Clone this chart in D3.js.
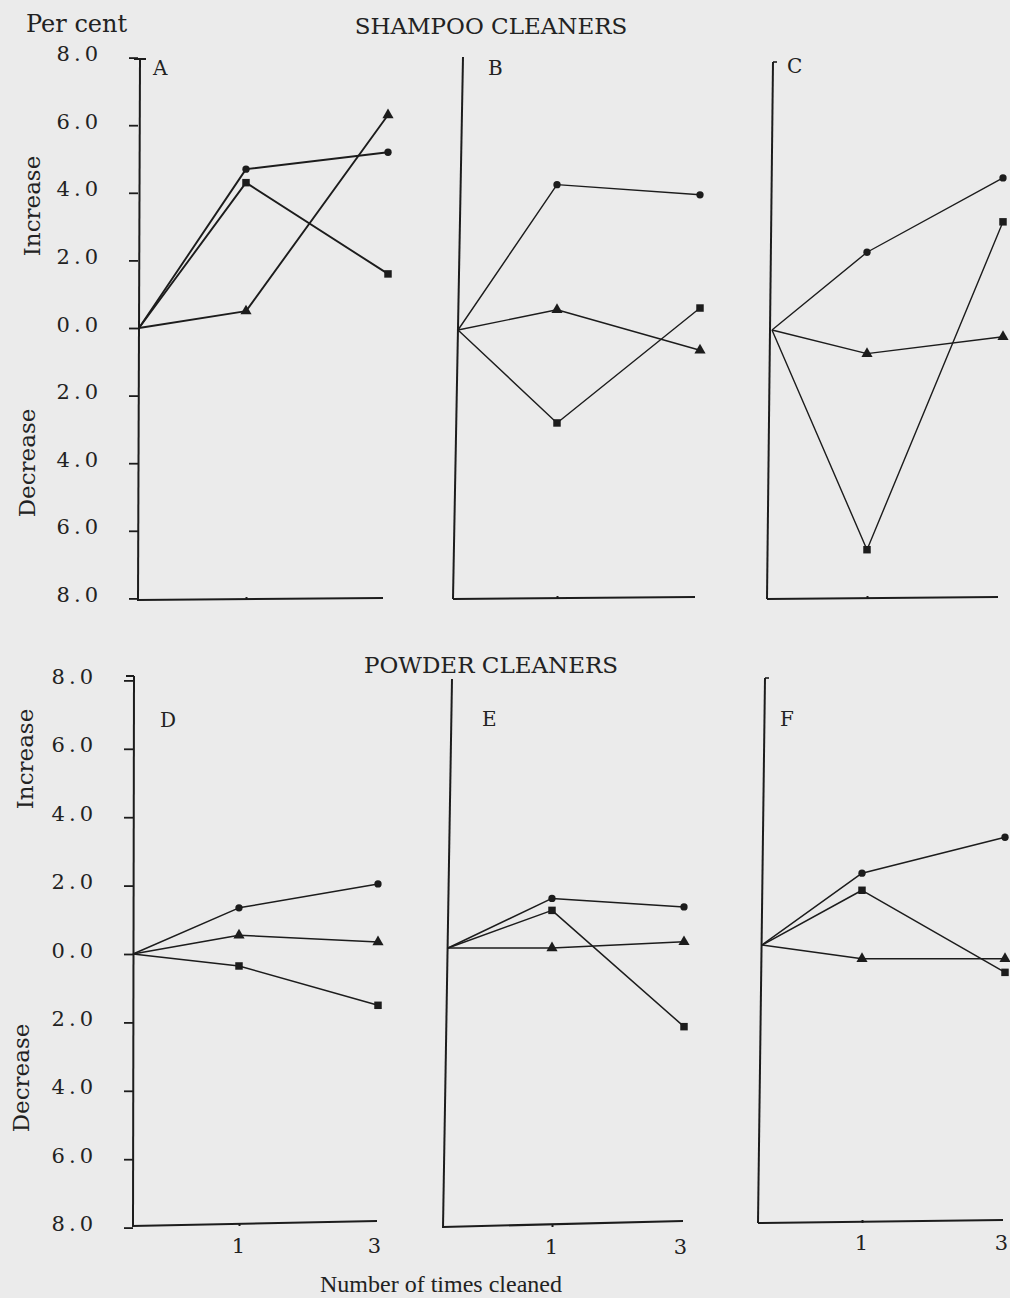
<!DOCTYPE html>
<html><head><meta charset="utf-8">
<script src="https://cdn.jsdelivr.net/npm/d3@7"></script>
<style>html,body{margin:0;padding:0;background:#ebebeb;} svg{display:block}</style>
</head><body>
<svg id="chart" width="1010" height="1298"></svg>
<script>
// ---------- DATA ----------
const timesCleaned = [0, 1, 3];
const xTickLabels = ["1", "3"];
const yTickValues = [8, 6, 4, 2, 0, -2, -4, -6, -8];
const yTickLabels = ["8.0", "6.0", "4.0", "2.0", "0.0", "2.0", "4.0", "6.0", "8.0"];
const panelNames = ["A", "B", "C", "D", "E", "F"];
const groupTitles = ["SHAMPOO CLEANERS", "POWDER CLEANERS"];

// per cent change (increase positive, decrease negative)
const A_circle   = [0, 4.7, 5.2];
const A_square   = [0, 4.3, 1.6];
const A_triangle = [0, 0.5, 6.3];
const B_circle   = [0, 4.3, 4.0];
const B_square   = [0, -2.75, 0.65];
const B_triangle = [0, 0.6, -0.6];
const C_circle   = [0, 2.3, 4.5];
const C_square   = [0, -6.5, 3.2];
const C_triangle = [0, -0.7, -0.2];
const D_circle   = [0, 1.35, 2.05];
const D_square   = [0, -0.35, -1.5];
const D_triangle = [0, 0.55, 0.35];
const E_circle   = [0, 1.45, 1.2];
const E_square   = [0, 1.1, -2.3];
const E_triangle = [0, 0.0, 0.18];
const F_circle   = [0, 2.1, 3.15];
const F_square   = [0, 1.6, -0.8];
const F_triangle = [0, -0.4, -0.4];

const seriesByPanel = {
  A: {circle: A_circle, square: A_square, triangle: A_triangle},
  B: {circle: B_circle, square: B_square, triangle: B_triangle},
  C: {circle: C_circle, square: C_square, triangle: C_triangle},
  D: {circle: D_circle, square: D_square, triangle: D_triangle},
  E: {circle: E_circle, square: E_square, triangle: E_triangle},
  F: {circle: F_circle, square: F_square, triangle: F_triangle}
};

// ---------- LAYOUT (styling only) ----------
const layout = {
  A: {x: [139, 246, 388], zero: 328, k: 33.8, ax: [140, 59, 138, 600], xa: [137, 600, 383, 598], ticks: true, xlabels: false, lw: 1.9, lx: 153, ly: 75, topTick: "T"},
  B: {x: [458, 557, 700], zero: 330, k: 33.8, ax: [463, 57, 453, 599], xa: [453, 599, 695, 597], ticks: false, xlabels: false, lw: 1.4, lx: 488, ly: 75},
  C: {x: [772, 867, 1003], zero: 330, k: 33.8, ax: [773, 62, 767, 599], xa: [767, 599, 998, 597], ticks: false, xlabels: false, lw: 1.4, lx: 787, ly: 73, topTick: "R"},
  D: {x: [133, 239, 378], zero: 954, k: 34.2, ax: [134, 676, 133, 1226], xa: [132, 1226, 377, 1221], ticks: true, xlabels: true, lw: 1.5, lx: 160, ly: 727, topTick: "L"},
  E: {x: [448, 552, 684], zero: 948, k: 34.2, ax: [452, 679, 443, 1228], xa: [443, 1227, 683, 1221], ticks: false, xlabels: true, lw: 1.5, lx: 482, ly: 726},
  F: {x: [762, 862, 1005], zero: 945, k: 34.2, ax: [765, 678, 758, 1223], xa: [758, 1223, 1003, 1220], ticks: false, xlabels: true, lw: 1.5, lx: 780, ly: 726, topTick: "R"}
};

const ink = "#1c1c1c";
const serif = "'DejaVu Serif', 'Liberation Serif', serif";
const svg = d3.select("#chart");
svg.append("rect").attr("width", 1010).attr("height", 1298).attr("fill", "#ebebeb");

const symbolType = {circle: d3.symbolCircle, square: d3.symbolSquare, triangle: d3.symbolTriangle};
const symbolSize = {circle: 42, square: 56, triangle: 54};

panelNames.forEach(name => {
  const L = layout[name];
  const g = svg.append("g");
  const x = d3.scaleLinear().domain(timesCleaned).range(L.x);
  const y = d3.scaleLinear().domain([-8, 8]).range([L.zero + 8 * L.k, L.zero - 8 * L.k]);

  // y axis line (slightly slanted, as in the scan)
  g.append("line").attr("x1", L.ax[0]).attr("y1", L.ax[1]).attr("x2", L.ax[2]).attr("y2", L.ax[3])
    .attr("stroke", ink).attr("stroke-width", 2);
  if (L.topTick === "T") {
    g.append("line").attr("x1", L.ax[0] - 6).attr("x2", L.ax[0] + 6).attr("y1", L.ax[1]).attr("y2", L.ax[1]).attr("stroke", ink).attr("stroke-width", 2);
  } else if (L.topTick === "R") {
    g.append("line").attr("x1", L.ax[0]).attr("x2", L.ax[0] + 4).attr("y1", L.ax[1]).attr("y2", L.ax[1]).attr("stroke", ink).attr("stroke-width", 1.6);
  } else if (L.topTick === "L") {
    g.append("line").attr("x1", L.ax[0] - 8).attr("x2", L.ax[0]).attr("y1", L.ax[1]).attr("y2", L.ax[1]).attr("stroke", ink).attr("stroke-width", 2);
  }
  // x axis line
  g.append("line").attr("x1", L.xa[0]).attr("y1", L.xa[1]).attr("x2", L.xa[2]).attr("y2", L.xa[3])
    .attr("stroke", ink).attr("stroke-width", 2);

  // y ticks + labels
  if (L.ticks) {
    const ya = g.append("g").attr("transform", `translate(${L.ax[2]},0)`)
      .call(d3.axisLeft(y).tickValues(yTickValues).tickFormat((d, i) => yTickLabels[i]).tickSize(9).tickPadding(27));
    ya.select(".domain").remove();
    ya.selectAll(".tick line").attr("stroke", ink).attr("stroke-width", 1.8);
    ya.selectAll(".tick text").attr("fill", "#222").attr("dy", "0.15em")
      .style("font-family", serif).style("font-size", "21px").style("letter-spacing", "4px");
  }

  // x ticks (small bump at 1) and labels
  const xTop = L.xa[1];
  const xb = g.append("g").attr("transform", `translate(0,${xTop})`)
    .call(d3.axisBottom(x).tickValues([1]).tickSize(-3).tickFormat(""));
  xb.select(".domain").remove();
  xb.selectAll(".tick line").attr("stroke", ink).attr("stroke-width", 2);
  if (L.xlabels) {
    const xl = g.append("g").attr("transform", `translate(0,${xTop})`)
      .call(d3.axisBottom(x).tickValues([1, 3]).tickSize(0).tickPadding(12).tickFormat((d, i) => xTickLabels[i]));
    xl.select(".domain").remove();
    xl.selectAll(".tick text").attr("fill", "#222").attr("dx", (d, i) => i === 1 ? -4 : -1)
      .style("font-family", serif).style("font-size", "21px");
  }

  // panel letter
  g.append("text").attr("x", L.lx).attr("y", L.ly).text(name)
    .attr("fill", "#222").style("font-family", serif).style("font-size", "20px");

  // series
  const line = d3.line().x((d, i) => x(timesCleaned[i])).y(d => y(d));
  const S = seriesByPanel[name];
  ["circle", "square", "triangle"].forEach(key => {
    g.append("path").datum(S[key]).attr("d", line)
      .attr("fill", "none").attr("stroke", ink).attr("stroke-width", L.lw).attr("stroke-linejoin", "round");
    g.selectAll(null).data(S[key].slice(1)).enter().append("path")
      .attr("transform", (d, i) => `translate(${x(timesCleaned[i + 1])},${y(d)})`)
      .attr("d", d3.symbol().type(symbolType[key]).size(symbolSize[key]))
      .attr("fill", ink);
  });
});

// ---------- Texts ----------
const txt = (x, y, s, size, anchor, fam) => svg.append("text").attr("x", x).attr("y", y).text(s)
  .attr("text-anchor", anchor || "start").attr("fill", "#222")
  .style("font-family", fam || serif).style("font-size", size + "px");

txt(26, 32, "Per cent", 24);
txt(491, 34, groupTitles[0], 23);
txt(491, 673, groupTitles[1], 23);
svg.selectAll("text").filter(function(){ return groupTitles.includes(this.textContent); }).attr("text-anchor", "middle");
txt(441, 1292, "Number of times cleaned", 24, "middle", "'Liberation Serif', serif");

const rot = (cx, cy, s) => svg.append("text").attr("transform", `translate(${cx},${cy}) rotate(-90)`)
  .attr("text-anchor", "middle").attr("dy", "0.35em").text(s).attr("fill", "#222")
  .style("font-family", serif).style("font-size", "23px");
rot(32, 206, "Increase");
rot(27, 463, "Decrease");
rot(25, 759, "Increase");
rot(21, 1078, "Decrease");
</script>
</body></html>
